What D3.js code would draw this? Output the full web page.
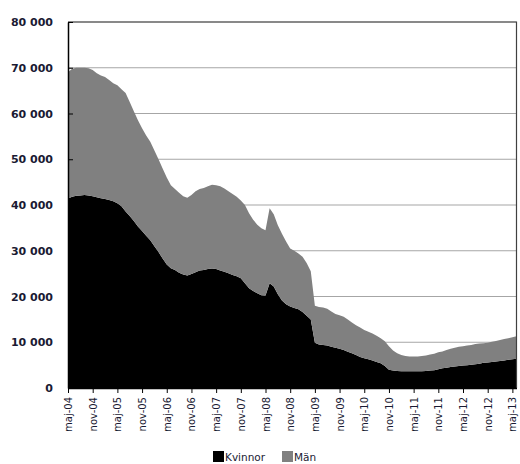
<!DOCTYPE html>
<html>
<head>
<meta charset="utf-8">
<script src="https://cdn.jsdelivr.net/npm/d3@7"></script>
<style>
  body { margin: 0; background: #fff; }
  svg { display: block; }
</style>
</head>
<body>
<div id="chart"></div>
<script>
const WIDTH = 520;
const HEIGHT = 464;

// monthly values, maj-04 (index 0) .. jun-13 (index 109)
const kvinnor = [
  41400, 41800, 42000, 42100, 42200, 42100, 41900, 41700, 41500, 41300,
  41100, 40800, 40400, 39700, 38600, 37600, 36500, 35300, 34300, 33300,
  32300, 31000, 29700, 28300, 27000, 26200, 25800, 25200, 24800, 24600,
  24900, 25300, 25700, 25800, 26000, 26100, 26000, 25700, 25400, 25100,
  24700, 24400, 24000, 22900, 21800, 21200, 20700, 20300, 20200, 22900,
  22200, 20500, 19100, 18300, 17800, 17500, 17200, 16600, 15800, 15000,
  9900, 9500, 9400, 9300, 9000, 8800, 8600, 8300, 7900, 7600,
  7200, 6800, 6500, 6300, 6000, 5700, 5400, 4800, 4000, 3800,
  3700, 3650, 3650, 3650, 3650, 3650, 3650, 3700, 3800, 3900,
  4100, 4300, 4400, 4600, 4700, 4800, 4900, 5000, 5100, 5200,
  5300, 5500, 5600, 5700, 5800, 5900, 6000, 6200, 6300, 6400
];
const man = [
  27600, 28000, 28000, 27900, 27800, 27800, 27600, 27100, 26800, 26700,
  26200, 25800, 25800, 25600, 25900, 24900, 24000, 23200, 22500, 21900,
  21500, 20900, 20300, 19700, 19000, 18100, 17700, 17500, 17100, 17000,
  17300, 17700, 17800, 17900, 18100, 18300, 18300, 18400, 18200, 17900,
  17700, 17400, 17000, 17100, 16400, 15600, 15000, 14600, 14300, 16400,
  15800, 15100, 14600, 13700, 12700, 12500, 12200, 12100, 11500, 10500,
  8100, 8200, 8200, 8000, 7700, 7400, 7300, 7300, 7100, 6700,
  6500, 6400, 6200, 6000, 5900, 5700, 5500, 5400, 5100, 4400,
  3900, 3550, 3350, 3250, 3250, 3250, 3350, 3400, 3500, 3600,
  3700, 3700, 3900, 4000, 4100, 4200, 4200, 4300, 4300, 4400,
  4400, 4300, 4300, 4400, 4500, 4600, 4700, 4700, 4800, 4900
];

// x tick every 6 months
const tickLabels = ["maj-04", "nov-04", "maj-05", "nov-05", "maj-06", "nov-06",
  "maj-07", "nov-07", "maj-08", "nov-08", "maj-09", "nov-09", "maj-10", "nov-10",
  "maj-11", "nov-11", "maj-12", "nov-12", "maj-13"];
const yTicks = [0, 10000, 20000, 30000, 40000, 50000, 60000, 70000, 80000];

const seriesNames = ["Kvinnor", "Män"];
const seriesColors = ["#000000", "#808080"];

const PLOT_LEFT = 68, PLOT_RIGHT = 516.5, PLOT_TOP = 22, PLOT_BOTTOM = 388;

const rows = kvinnor.map((k, i) => ({ i: i, Kvinnor: k, "Män": man[i] }));

const svg = d3.select("#chart").append("svg")
    .attr("width", WIDTH)
    .attr("height", HEIGHT);

const xScale = d3.scaleLinear().domain([0, kvinnor.length - 1]).range([PLOT_LEFT, PLOT_RIGHT]);
const yScale = d3.scaleLinear().domain([0, 80000]).range([PLOT_BOTTOM, PLOT_TOP]);

const fmt = d3.formatLocale({ decimal: ",", thousands: " ", grouping: [3], currency: ["", " kr"] }).format(",d");

// gridlines
svg.append("g")
   .selectAll("line")
   .data(yTicks.filter(d => d > 0))
   .join("line")
   .attr("x1", PLOT_LEFT).attr("x2", PLOT_RIGHT)
   .attr("y1", d => yScale(d)).attr("y2", d => yScale(d))
   .attr("stroke", "#a6a6a6")
   .attr("stroke-width", 1.2);

// stacked areas
const stack = d3.stack().keys(seriesNames);
const stacked = stack(rows);

const area = d3.area()
    .x(d => xScale(d.data.i))
    .y0(d => yScale(d[0]))
    .y1(d => yScale(d[1]));

svg.append("g")
   .selectAll("path")
   .data(stacked)
   .join("path")
   .attr("d", area)
   .attr("fill", (d, i) => seriesColors[i]);

// top and right border
svg.append("path")
   .attr("d", "M" + PLOT_LEFT + "," + PLOT_TOP + "H" + PLOT_RIGHT + "V" + PLOT_BOTTOM)
   .attr("fill", "none")
   .attr("stroke", "#404040")
   .attr("stroke-width", 1.2);

// Y AXIS
const yAxis = svg.append("g")
   .attr("transform", "translate(" + PLOT_LEFT + ",0)")
   .call(d3.axisLeft(yScale).tickValues(yTicks).tickSizeInner(-5).tickSizeOuter(0).tickPadding(15).tickFormat(fmt));
yAxis.select(".domain").attr("stroke", "#000").attr("stroke-width", 1.5);
yAxis.selectAll(".tick line").attr("stroke", "#000");
yAxis.selectAll("text")
   .style("font-family", "'DejaVu Sans', Verdana, sans-serif")
   .style("font-size", "11px")
   .style("font-weight", "bold")
   .attr("fill", "#1a1a33");

// X AXIS
const xAxis = svg.append("g")
   .attr("transform", "translate(0," + PLOT_BOTTOM + ")")
   .call(d3.axisBottom(xScale)
      .tickValues(tickLabels.map((d, i) => i * 6))
      .tickSizeInner(5).tickSizeOuter(0)
      .tickFormat((d, i) => tickLabels[i]));
xAxis.select(".domain").attr("stroke", "#000").attr("stroke-width", 1.5);
xAxis.selectAll(".tick line").attr("stroke", "#000");
xAxis.selectAll("text")
   .attr("transform", "rotate(-90)")
   .attr("text-anchor", "end")
   .attr("x", -9)
   .attr("y", 0)
   .attr("dy", "0.35em")
   .style("font-family", "'DejaVu Sans', Verdana, sans-serif")
   .style("font-size", "10px")
   .attr("fill", "#1a1a33");

// Legend
const legend = svg.append("g").attr("transform", "translate(213,451)");
const legendX = [0, 69];
seriesNames.forEach((name, i) => {
  const g = legend.append("g").attr("transform", "translate(" + legendX[i] + ",0)");
  g.append("rect").attr("width", 11).attr("height", 11).attr("fill", seriesColors[i]);
  g.append("text")
   .attr("x", 12).attr("y", 10)
   .style("font-family", "'DejaVu Sans', Verdana, sans-serif")
   .style("font-size", "10.5px")
   .attr("fill", "#1a1a33")
   .text(name);
});
</script>
</body>
</html>
